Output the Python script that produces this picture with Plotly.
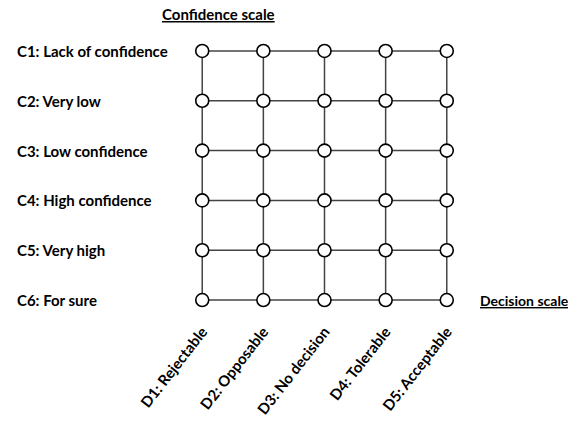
import plotly.graph_objects as go

# %% Datos
confidence = ["C1: Lack of confidence", "C2: Very low", "C3: Low confidence",
              "C4: High confidence", "C5: Very high", "C6: For sure"]
decision = ["D1: Rejectable", "D2: Opposable", "D3: No decision",
            "D4: Tolerable", "D5: Acceptable"]

xs = list(range(len(decision)))
ys = list(range(len(confidence)))

FONT = "Lato"
LINE = "#444444"

W, H = 568, 425
ML, MR, MT, MB = 190, 109, 41, 115
pw = W - ML - MR

fig = go.Figure()

# lineas horizontales
for y in ys:
    fig.add_trace(go.Scatter(x=xs, y=[y] * len(xs), mode="lines",
                             line=dict(color=LINE, width=1.5),
                             hoverinfo="skip", showlegend=False))
# lineas verticales
for x in xs:
    fig.add_trace(go.Scatter(x=[x] * len(ys), y=ys, mode="lines",
                             line=dict(color=LINE, width=1.5),
                             hoverinfo="skip", showlegend=False))

# nodos
fig.add_trace(go.Scatter(
    x=[x for y in ys for x in xs],
    y=[y for y in ys for x in xs],
    mode="markers",
    marker=dict(size=13, color="white", line=dict(color="black", width=1.6)),
    showlegend=False,
))

# etiquetas de confianza (alineadas a la izquierda)
for y, lab in zip(ys, confidence):
    fig.add_annotation(x=(15 - ML) / pw, xref="paper", y=y, yref="y",
                       text="<b>" + lab + "</b>", showarrow=False, xanchor="left",
                       font=dict(family=FONT, size=15, color="black"))

fig.add_annotation(x=(218 - ML) / pw, xref="paper", y=1.0, yref="paper", yshift=MT - 3,
                   text="<b><u>Confidence scale</u></b>", showarrow=False,
                   xanchor="center", yanchor="top",
                   font=dict(family=FONT, size=15, color="black"))
fig.add_annotation(x=(478 - ML) / pw, xref="paper", y=ys[-1], yref="y",
                   text="<b><u>Decision scale</u></b>", showarrow=False,
                   xanchor="left",
                   font=dict(family=FONT, size=14, color="black"))

fig.update_xaxes(range=[-0.2, 4.2], tickvals=xs, ticktext=["<b>" + d + "</b>" for d in decision],
                 tickangle=-52, showgrid=False, zeroline=False, showline=False,
                 ticks="", ticklabelstandoff=9, automargin=False,
                 tickfont=dict(family=FONT, size=15, color="black"))
fig.update_yaxes(range=[5.2, -0.2], showticklabels=False, showgrid=False,
                 zeroline=False, showline=False, automargin=False)

fig.update_layout(
    width=W, height=H,
    margin=dict(l=ML, r=MR, t=MT, b=MB),
    plot_bgcolor="white", paper_bgcolor="white",
)

# sin margen del body para que la figura quede en (0, 0)
fig.write_html("out.html", config={"displayModeBar": False},
               post_script="document.body.style.margin='0px';")
